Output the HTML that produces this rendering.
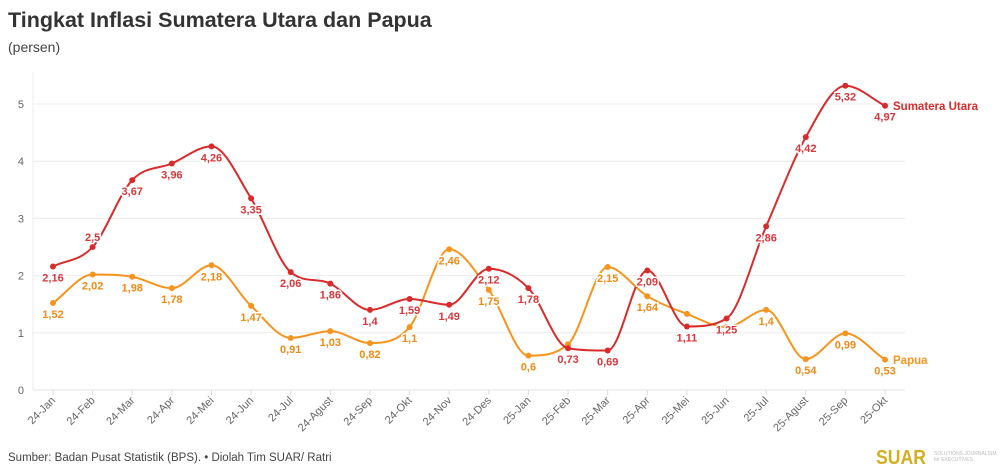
<!DOCTYPE html>
<html><head><meta charset="utf-8"><style>
body{margin:0;background:#fff;font-family:"Liberation Sans",sans-serif;}
svg{display:block}
</style></head><body>
<svg id="s" width="1000" height="475" xmlns="http://www.w3.org/2000/svg" font-family="Liberation Sans, sans-serif">
<text x="8" y="27" font-size="21.5" font-weight="bold" fill="#333">Tingkat Inflasi Sumatera Utara dan Papua</text>
<text x="8" y="52" font-size="14" fill="#444">(persen)</text>
<g id="grid"></g>
<g id="lines"></g>
<text x="8" y="461" font-size="11.5" fill="#444">Sumber: Badan Pusat Statistik (BPS). • Diolah Tim SUAR/ Ratri</text>
<text x="876" y="464" font-size="20" font-weight="bold" fill="#d4ae1f" textLength="50" lengthAdjust="spacingAndGlyphs">SUAR</text>
<text x="934" y="455" font-size="5" fill="#bbb">SOLUTIONS JOURNALISM</text>
<text x="934" y="461" font-size="5" fill="#bbb">for EXECUTIVES</text>
</svg>
<script>
var NS="http://www.w3.org/2000/svg";
function el(t,a,p,txt){var e=document.createElementNS(NS,t);for(var k in a)e.setAttribute(k,a[k]);if(txt!=null)e.textContent=txt;p.appendChild(e);return e;}
var g=document.getElementById('grid'),L=document.getElementById('lines');
var y0=390,sc=57.2,x0=53,dx=39.62;
for(var i=0;i<=5;i++){var y=y0-i*sc;el('line',{x1:33,x2:905,y1:y,y2:y,stroke:i==0?'#e6e6e6':'#ececec','stroke-width':1},g);
el('text',{x:24,y:y+4,'font-size':11,fill:'#666','text-anchor':'end'},g,String(i));}
el('line',{x1:33,x2:33,y1:72,y2:390,stroke:'#ececec'},g);
var m=["24-Jan","24-Feb","24-Mar","24-Apr","24-Mei","24-Jun","24-Jul","24-Agust","24-Sep","24-Okt","24-Nov","24-Des","25-Jan","25-Feb","25-Mar","25-Apr","25-Mei","25-Jun","25-Jul","25-Agust","25-Sep","25-Okt"];
m.forEach(function(s,i){var x=x0+i*dx;el('line',{x1:x,x2:x,y1:390,y2:395,stroke:'#ddd'},g);
el('text',{x:x+3,y:401,'font-size':11,fill:'#666','text-anchor':'end',transform:'rotate(-45 '+(x+3)+' 401)'},g,s);});
var su=[2.16,2.5,3.67,3.96,4.26,3.35,2.06,1.86,1.4,1.59,1.49,2.12,1.78,0.73,0.69,2.09,1.11,1.25,2.86,4.42,5.32,4.97];
var pa=[1.52,2.02,1.98,1.78,2.18,1.47,0.91,1.03,0.82,1.1,2.46,1.75,0.6,0.8,2.15,1.64,1.33,1.1,1.4,0.54,0.99,0.53];
var paLab=[1,1,1,1,1,1,1,1,1,1,1,1,1,0,1,1,0,0,1,1,1,1];
function path(d){var p=d.map(function(v,i){return [x0+i*dx,y0-v*sc]});var n=p.length,h=dx;
var s=[],t=[];for(var i=0;i<n-1;i++)s.push((p[i+1][1]-p[i][1])/h);
for(var i=0;i<n;i++){if(i==0)t.push(s[0]);else if(i==n-1)t.push(s[n-2]);else{var a=s[i-1],b=s[i];
if(a*b<=0)t.push(0);else{var v=(a+b)/2;var m=Math.min(Math.abs(v),3*Math.abs(a),3*Math.abs(b));t.push(Math.sign(v)*m);}}}
var str='M'+p[0][0]+','+p[0][1];
for(var i=0;i<n-1;i++){str+=' C'+(p[i][0]+h/3)+','+(p[i][1]+t[i]*h/3)+' '+(p[i+1][0]-h/3)+','+(p[i+1][1]-t[i+1]*h/3)+' '+p[i+1][0]+','+p[i+1][1];}return str;}
function series(d,col,lcol,lab,up){el('path',{d:path(d),fill:'none',stroke:col,'stroke-width':2},L);
d.forEach(function(v,i){var x=x0+i*dx,y=y0-v*sc;el('circle',{cx:x,cy:y,r:3,fill:col},L);
if(lab&&!lab[i])return;var yy=(up&&up[i])?y-6:y+15;
el('text',{x:x,y:yy,'font-size':11,'font-weight':'bold','text-anchor':'middle',fill:lcol,stroke:'#fff','stroke-width':3,'paint-order':'stroke'},L,String(v).replace('.',','));});}
var suUp=[];suUp[1]=1;
series(pa,'#f7941d','#f08a14',paLab);
series(su,'#d92b2b','#d9363a',null,suUp);
el('text',{x:893,y:110,'font-size':11.5,'font-weight':'bold',fill:'#d92b2b'},L,'Sumatera Utara');
el('text',{x:893,y:364,'font-size':11.5,'font-weight':'bold',fill:'#f7941d'},L,'Papua');
</script>
</body></html>
